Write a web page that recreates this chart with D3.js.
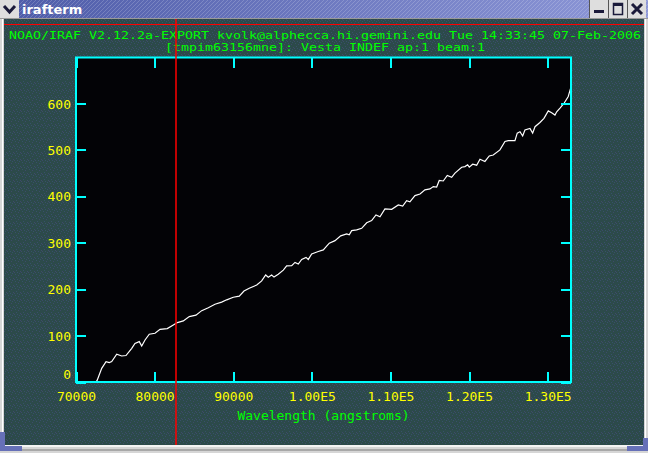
<!DOCTYPE html>
<html><head><meta charset="utf-8">
<script src="https://cdn.jsdelivr.net/npm/d3@7"></script>
<style>
html,body{margin:0;padding:0;background:#c8c8c8;}
svg{display:block;}
</style></head>
<body>
<script>
// ---- data ----
const wavelength = [72550,72700,73270,73820,74240,74540,75180,75810,76360,77090,77500,78050,78360,78780,79320,80050,80690,81610,82380,82890,83650,84410,85260,85990,86830,87680,88530,89170,90010,90770,91370,92040,92990,93620,94130,94460,94890,95190,95730,96370,96800,97440,97860,98280,98710,99260,99550,99980,100820,101460,102220,102950,103670,104430,104760,105070,105700,106340,106980,107610,108160,108670,109300,110160,111000,111560,112060,112480,113120,113760,114390,115030,115450,115880,116210,116720,117230,117790,118210,119060,119480,119820,120030,120460,120970,121390,122020,122570,123080,123930,124570,124990,125840,126130,126480,126820,127110,127750,128090,128390,129020,129530,130080,130510,130930,131150,131570,132070,132620,132960];
const flux = [0,4,29.5,44,42,44,60,56,57,72.5,83,87,77.6,90.5,103,105,113.5,115,123,128,131.5,141,144,153.7,160,167.5,172,177,182.5,185,196,202,209,217.7,230.6,225.6,230.6,226,232,241,250,250.6,257.7,254,264,268.5,264,276,281,284.5,299,304.5,314.7,319,317,326,327.6,331,343,347.6,360,356,372.8,372,381.5,379,390.7,388,401.5,405,414,416,421,420,434,433,445,441,450,462.7,464,468,462.7,469,467,480,475,487,489,500,518,520,520,536,539,530,543,546,536,550,559,568,584,580,575,582,590,600,615,635];
const xTickValues = [70000,80000,90000,100000,110000,120000,130000];
const xTickLabels = ["70000","80000","90000","1.00E5","1.10E5","1.20E5","1.30E5"];
const yTickValues = [0,100,200,300,400,500,600];
const yTickLabels = ["0","100","200","300","400","500","600"];
const xDomain = [70000,132970];
const yDomain = [0,699];
const titleLine1 = "NOAO/IRAF V2.12.2a-EXPORT kvolk@alphecca.hi.gemini.edu Tue 14:33:45 07-Feb-2006";
const titleLine2 = "[tmpim63156mne]: Vesta INDEF ap:1 beam:1";
const xAxisLabel = "Wavelength (angstroms)";
const windowTitle = "irafterm";

// ---- layout ----
const W = 648, H = 453;
const plot = {l:76, t:57.5, r:571, b:382};
const mono = "'DejaVu Sans Mono','Liberation Mono',monospace";

const svg = d3.select("body").append("svg").attr("width",W).attr("height",H);
const defs = svg.append("defs");

const pat = defs.append("pattern").attr("id","speck").attr("width",7).attr("height",7).attr("patternUnits","userSpaceOnUse");
pat.append("rect").attr("width",7).attr("height",7).attr("fill","#2c4a4a");
[[1,1],[4,2],[2,4],[6,5],[5,0],[0,6],[3,6]].forEach((p,i)=>{
  pat.append("rect").attr("x",p[0]).attr("y",p[1]).attr("width",1).attr("height",1)
    .attr("fill", i%2? "#3e4a6a":"#38506a");
});
const g1 = defs.append("linearGradient").attr("id","tb").attr("x1","0").attr("x2","1").attr("y1","0").attr("y2","0");
g1.append("stop").attr("offset","0").attr("stop-color","#4d5ba8");
g1.append("stop").attr("offset","1").attr("stop-color","#8e98d8");
const sp = defs.append("pattern").attr("id","stripe").attr("width",4).attr("height",4).attr("patternUnits","userSpaceOnUse");
sp.append("path").attr("d","M0,4 L4,0").attr("stroke","#ffffff").attr("stroke-opacity",0.18).attr("stroke-width",1);
defs.append("clipPath").attr("id","pc").append("rect")
  .attr("x",plot.l).attr("y",plot.t).attr("width",plot.r-plot.l).attr("height",plot.b-plot.t);

// window frame
svg.append("rect").attr("width",W).attr("height",H).attr("fill","#d6d6d6");
svg.append("rect").attr("x",4).attr("y",19).attr("width",W-8).attr("height",426).attr("fill","url(#speck)");
svg.append("line").attr("x1",2.5).attr("x2",2.5).attr("y1",18).attr("y2",446).attr("stroke","#ffffff");
svg.append("line").attr("x1",645.5).attr("x2",645.5).attr("y1",18).attr("y2",446).attr("stroke","#ffffff");
svg.append("rect").attr("x",0).attr("y",445).attr("width",W).attr("height",2).attr("fill","#f4f4f4");
svg.append("rect").attr("x",0).attr("y",449).attr("width",W).attr("height",2).attr("fill","#a8a8a8");
svg.append("path").attr("d","M0,432 L5,432 L5,446 L22,446 L22,451 L0,451 Z").attr("fill","#6670b8");
svg.append("path").attr("d","M643,438 L648,438 L648,451 L627,451 L627,446 L643,446 Z").attr("fill","#6670b8");

// title bar
svg.append("rect").attr("x",0).attr("y",0).attr("width",W).attr("height",18).attr("fill","url(#tb)");
svg.append("rect").attr("x",0).attr("y",0).attr("width",W).attr("height",18).attr("fill","url(#stripe)");
svg.append("line").attr("x1",0).attr("x2",W).attr("y1",18.5).attr("y2",18.5).attr("stroke","#9a9a9a");
svg.append("rect").attr("x",0).attr("y",0).attr("width",19).attr("height",18).attr("fill","#dedede");
svg.append("path").attr("d","M4,6 L9.5,12 L15,6").attr("fill","none").attr("stroke","#1a1a3a").attr("stroke-width",3);
svg.append("text").attr("x",22).attr("y",14).attr("fill","#ffffff").attr("font-family","'DejaVu Sans',sans-serif")
  .attr("font-weight","bold").attr("font-size",13).text(windowTitle);
[590,609,628].forEach((bx)=>{
  svg.append("rect").attr("x",bx).attr("y",0).attr("width",18).attr("height",18).attr("fill","#dedede");
  svg.append("line").attr("x1",bx-0.5).attr("x2",bx-0.5).attr("y1",0).attr("y2",18).attr("stroke","#555");
});
svg.append("rect").attr("x",594).attr("y",10).attr("width",10).attr("height",3).attr("fill","#1a1a3a");
svg.append("rect").attr("x",613.5).attr("y",3.5).attr("width",9).attr("height",11).attr("fill","none").attr("stroke","#1a1a3a").attr("stroke-width",1.5);
svg.append("rect").attr("x",613).attr("y",3).attr("width",10).attr("height",3).attr("fill","#1a1a3a");
svg.append("path").attr("d","M632,4 L642,14 M642,4 L632,14").attr("stroke","#1a1a3a").attr("stroke-width",3);

// header texts
svg.append("text").attr("x",9).attr("y",39).attr("fill","#00ff00").attr("font-family",mono).attr("font-size",11)
  .attr("textLength",632).attr("lengthAdjust","spacingAndGlyphs").text(titleLine1);
svg.append("text").attr("x",325).attr("y",51).attr("text-anchor","middle").attr("fill","#00ff00").attr("font-family",mono).attr("font-size",11)
  .attr("textLength",320).attr("lengthAdjust","spacingAndGlyphs").text(titleLine2);

// plot area
svg.append("rect").attr("x",plot.l).attr("y",plot.t).attr("width",plot.r-plot.l).attr("height",plot.b-plot.t).attr("fill","#030306");

const x = d3.scaleLinear().domain(xDomain).range([plot.l,plot.r]);
const y = d3.scaleLinear().domain(yDomain).range([plot.b,plot.t]);

const line = d3.line().x((d,i)=>x(wavelength[i])).y(d=>y(d));
svg.append("path").datum(flux).attr("clip-path","url(#pc)").attr("d",line)
  .attr("fill","none").attr("stroke","#ffffff").attr("stroke-width",1.2);

function styleAxis(g){
  g.select(".domain").remove();
  g.selectAll(".tick line").attr("stroke","#00ffff").attr("stroke-width",2).attr("shape-rendering","crispEdges");
  g.selectAll(".tick text").attr("fill","#ffff00").attr("font-family",mono).attr("font-size",13);
}
const xb = svg.append("g").attr("transform",`translate(0,${plot.b})`)
  .call(d3.axisBottom(x).tickValues(xTickValues).tickSizeInner(-10).tickSizeOuter(0).tickPadding(10)
    .tickFormat((d,i)=>xTickLabels[i]));
styleAxis(xb);
svg.append("g").attr("transform",`translate(0,${plot.t})`)
  .call(d3.axisTop(x).tickValues(xTickValues).tickSizeInner(-10).tickSizeOuter(0).tickFormat(""))
  .call(styleAxis);
const yl = svg.append("g").attr("transform",`translate(${plot.l},0)`)
  .call(d3.axisLeft(y).tickValues(yTickValues).tickSizeInner(-10).tickSizeOuter(0).tickPadding(5)
    .tickFormat((d,i)=>yTickLabels[i]));
styleAxis(yl);
yl.selectAll(".tick text").attr("dy",(d)=> d===0 ? "-0.25em" : "0.36em");
svg.append("g").attr("transform",`translate(${plot.r},0)`)
  .call(d3.axisRight(y).tickValues(yTickValues).tickSizeInner(-10).tickSizeOuter(0).tickFormat(""))
  .call(styleAxis);

svg.append("rect").attr("x",plot.l).attr("y",plot.t).attr("width",plot.r-plot.l).attr("height",plot.b-plot.t)
  .attr("fill","none").attr("stroke","#00ffff").attr("stroke-width",2);

svg.append("text").attr("x",(plot.l+plot.r)/2).attr("y",419.5).attr("text-anchor","middle").attr("fill","#00ff00")
  .attr("font-family",mono).attr("font-size",13).text(xAxisLabel);

// cursor crosshair (red)
svg.append("line").attr("x1",4).attr("x2",644).attr("y1",24.5).attr("y2",24.5).attr("stroke","#ff0000").attr("stroke-width",1.2);
svg.append("line").attr("x1",176).attr("x2",176).attr("y1",19).attr("y2",445).attr("stroke","#ff0000").attr("stroke-width",1.5);
</script>
</body></html>
